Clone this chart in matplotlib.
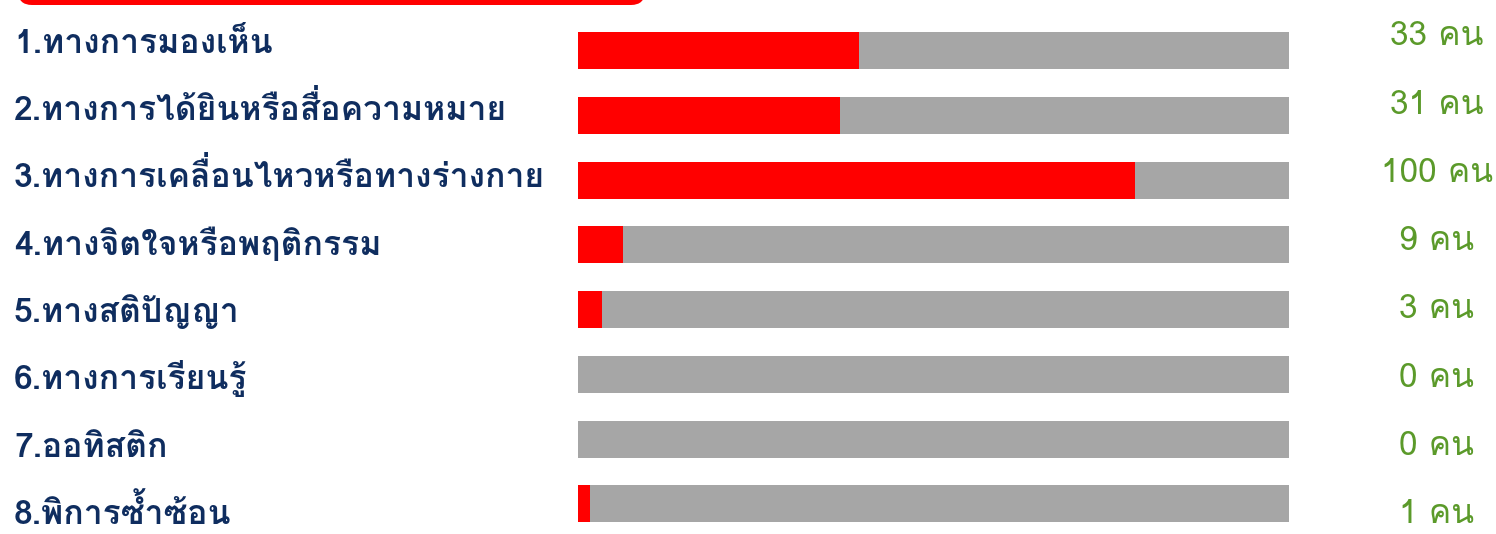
import matplotlib
matplotlib.use("Agg")
import matplotlib.pyplot as plt
import matplotlib.transforms as mtransforms
from matplotlib.patches import FancyBboxPatch
from matplotlib import font_manager
from matplotlib.ft2font import FT2Font

# ---- data ----
categories = [
    "1.ทางการมองเห็น",
    "2.ทางการได้ยินหรือสื่อความหมาย",
    "3.ทางการเคลื่อนไหวหรือทางร่างกาย",
    "4.ทางจิตใจหรือพฤติกรรม",
    "5.ทางสติปัญญา",
    "6.ทางการเรียนรู้",
    "7.ออทิสติก",
    "8.พิการซ้ำซ้อน",
]
counts = [33, 31, 100, 9, 3, 0, 0, 1]
fill_pct = [39.5, 36.8, 78.3, 6.3, 3.4, 0, 0, 1.7]   # red fill length (% of track)
track_max = 100
unit = "คน"

# ---- font handling (no complex shaping in matplotlib: use legacy PUA forms) ----
THAI_FONT = "Loma"
FALLBACK = "Noto Sans Thai Looped"
try:
    _path = font_manager.findfont(font_manager.FontProperties(family=THAI_FONT), fallback_to_default=False)
    _cmap = FT2Font(_path).get_charmap()
except Exception:
    _cmap = {}
HAS_PUA = all(c in _cmap for c in (0xF70A, 0xF70B, 0xF710, 0xF701))
FAMILY = [THAI_FONT, "DejaVu Sans"] if 0x0E01 in _cmap else [FALLBACK, "DejaVu Sans"]

TONES = set(range(0x0E48, 0x0E4D))
UPPER = {0x0E31, 0x0E34, 0x0E35, 0x0E36, 0x0E37, 0x0E47, 0x0E4D}
TALL = {0x0E1B, 0x0E1D, 0x0E1F, 0x0E2C}
UPPER_LEFT = {0x0E31: 0xF710, 0x0E34: 0xF701, 0x0E35: 0xF702, 0x0E36: 0xF703, 0x0E37: 0xF704}


def thai_fix(s):
    if not HAS_PUA:
        return s
    out = []
    base = None
    for k, ch in enumerate(s):
        c = ord(ch)
        prev = ord(s[k - 1]) if k else 0
        nxt = ord(s[k + 1]) if k + 1 < len(s) else 0
        if 0x0E01 <= c <= 0x0E2E:
            base = c
            out.append(ch)
        elif c in TONES:
            if prev in UPPER or nxt == 0x0E33:
                out.append(ch)
            elif base in TALL:
                out.append(chr(0xF705 + c - 0x0E48))
            else:
                out.append(chr(0xF70A + c - 0x0E48))
        elif c in UPPER_LEFT and prev in TALL:
            out.append(chr(UPPER_LEFT[c]))
        else:
            out.append(ch)
    return "".join(out)


W, H = 1496, 534
DPI = 100
fig = plt.figure(figsize=(W / DPI, H / DPI), dpi=DPI)
fig.patch.set_facecolor("white")
n = len(categories)


def grid_axes(rect, top, step):
    a = fig.add_axes(rect)
    hpx = rect[3] * H
    y0px = (1 - rect[1] - rect[3]) * H
    a.set_ylim((y0px + hpx - top) / step, (y0px - top) / step)
    a.axis("off")
    return a


# bar track axes
ax = grid_axes([578 / W, 0, (1289 - 578) / W, 1], 50.5, 64.76)
ax.set_xlim(0, track_max)
ypos = list(range(n))
bar_h = 0.571
ax.barh(ypos, [track_max] * n, height=bar_h, color="#a6a6a6", linewidth=0)
ax.barh(ypos, fill_pct, height=bar_h, color="#ff0000", linewidth=0)

# text grids (baselines)
ax_lab = grid_axes([0, 0, 1, 1], 52.6, 67.35)
ax_lab.set_xlim(0, W)
ax_val = grid_axes([0, 0, 1, 1], 45.4, 68.26)
ax_val.set_xlim(0, W)

lab_texts, val_texts = [], []
for i, (c, v) in enumerate(zip(categories, counts)):
    lab_texts.append(ax_lab.text(14, i, thai_fix(c), ha="left", va="baseline",
                                 fontsize=20, color="#0f2d5f", family=FAMILY, fontweight="bold"))
    val_texts.append(ax_val.text(1437, i, thai_fix(f"{v} {unit}"), ha="center", va="baseline",
                                 fontsize=20, color="#5b9a2a", family=FAMILY))

# fit font sizes to measured widths in the reference
fig.canvas.draw()
r = fig.canvas.get_renderer()
w_lab = lab_texts[2].get_window_extent(r).width
w_val = val_texts[2].get_window_extent(r).width
s_lab = 20 * 531 / w_lab
s_val = 20 * 112 / w_val
for t in lab_texts:
    t.set_fontsize(s_lab)
for t in val_texts:
    t.set_fontsize(s_val)

# red header tab cut at the top
tab = FancyBboxPatch((18, -40), 627, 45, boxstyle="round,pad=0,rounding_size=14",
                     transform=mtransforms.Affine2D().scale(1, -1).translate(0, H),
                     facecolor="#ff0000", edgecolor="none")
fig.patches.append(tab)

fig.savefig("out.png", dpi=DPI)
